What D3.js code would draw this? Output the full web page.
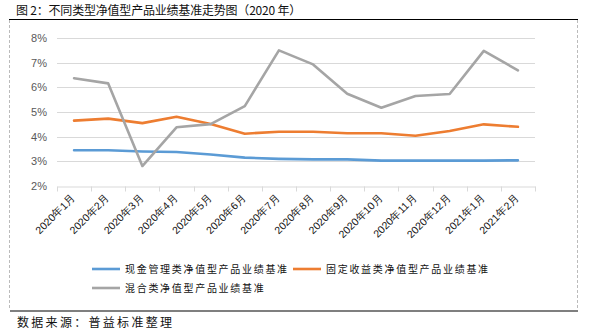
<!DOCTYPE html>
<html><head><meta charset="utf-8">
<script src="https://cdn.jsdelivr.net/npm/d3@7"></script>
<style>
body{margin:0;background:#fff;}
svg{display:block;font-family:"Noto Sans CJK SC","Noto Sans",sans-serif;}
</style></head>
<body><svg id="c" width="591" height="333"></svg>
<script>
const categories = ["2020年1月","2020年2月","2020年3月","2020年4月","2020年5月","2020年6月","2020年7月","2020年8月","2020年9月","2020年10月","2020年11月","2020年12月","2021年1月","2021年2月"];
const cashMgmt = [3.45,3.45,3.40,3.38,3.28,3.15,3.10,3.08,3.08,3.03,3.03,3.03,3.03,3.04];
const fixedIncome = [4.65,4.73,4.55,4.81,4.51,4.12,4.20,4.20,4.14,4.14,4.04,4.23,4.50,4.40];
const mixed = [6.37,6.16,2.81,4.38,4.51,5.24,7.50,6.93,5.74,5.17,5.65,5.73,7.48,6.69];
const yTicks = [2,3,4,5,6,7,8];
const seriesNames = ["现金管理类净值型产品业绩基准","固定收益类净值型产品业绩基准","混合类净值型产品业绩基准"];
const colors = ["#5b9bd5","#ed7d31","#a5a5a5"];
const title = "图 2：不同类型净值型产品业绩基准走势图（2020 年）";
const source = "数据来源：普益标准整理";

const svg = d3.select("#c");
// frame
svg.append("text").attr("x",16).attr("y",15).attr("font-size",12).attr("letter-spacing",-0.2).attr("fill","#111").text(title);
svg.append("line").attr("x1",9).attr("x2",578).attr("y1",19.5).attr("y2",19.5).attr("stroke","#000").attr("stroke-width",1.2);
svg.append("line").attr("x1",9.5).attr("x2",9.5).attr("y1",20).attr("y2",310).attr("stroke","#bbb").attr("stroke-dasharray","3,2");
svg.append("line").attr("x1",577.5).attr("x2",577.5).attr("y1",20).attr("y2",310).attr("stroke","#bbb").attr("stroke-dasharray","3,2");
svg.append("line").attr("x1",10).attr("x2",578).attr("y1",311).attr("y2",311).attr("stroke","#000").attr("stroke-width",1.2);
svg.append("text").attr("x",17).attr("y",327).attr("font-size",12).attr("letter-spacing",2.3).attr("fill","#111").text(source);

const x0=57, x1=535, yTop=38, yBot=186;
const x = d3.scaleBand().domain(categories).range([x0,x1]);
const y = d3.scaleLinear().domain([2,8]).range([yBot,yTop]);

// gridlines
svg.append("g").selectAll("line").data(yTicks.slice(1)).join("line")
  .attr("x1",x0).attr("x2",x1).attr("y1",d=>Math.round(y(d))+0.5).attr("y2",d=>Math.round(y(d))+0.5)
  .attr("stroke","#d9d9d9").attr("stroke-width",1);
// y labels
const yAxis = d3.axisLeft(y).tickValues(yTicks).tickFormat(d=>d+"%").tickSize(0).tickPadding(0);
const gy = svg.append("g").attr("transform",`translate(47,0)`).call(yAxis);
gy.select(".domain").remove();
gy.selectAll("text").attr("font-size",11).attr("fill","#595959").attr("font-family","'Liberation Sans',Arial,sans-serif");

// x axis
const xAxis = d3.axisBottom(x).tickSize(0).tickPadding(0);
const gx = svg.append("g").attr("transform",`translate(0,${yBot+0.5})`).call(xAxis);
gx.select(".domain").attr("stroke","#d9d9d9");
// tick marks at category boundaries
const bounds = categories.map((c)=>x(c)).concat([x1]);
gx.selectAll(".bt").data(bounds).join("line").attr("class","bt")
  .attr("x1",d=>Math.round(d)+0.5).attr("x2",d=>Math.round(d)+0.5).attr("y1",0).attr("y2",5).attr("stroke","#d9d9d9");
gx.selectAll(".tick text")
  .attr("font-size",10.5).attr("fill","#111").attr("text-anchor","end")
  .attr("dy",0).attr("y",0)
  .attr("transform","translate(2,12) rotate(-45)");

// lines
const line = d3.line().x((d,i)=>x(categories[i])+x.bandwidth()/2).y(d=>y(d));
[cashMgmt,fixedIncome,mixed].forEach((s,k)=>{
  svg.append("path").datum(s).attr("d",line).attr("fill","none")
    .attr("stroke",colors[k]).attr("stroke-width",2.6).attr("stroke-linejoin","round").attr("stroke-linecap","round");
});

// legend
const legendPos = [[92,269],[293,269],[92,288]];
seriesNames.forEach((n,k)=>{
  const [lx,ly]=legendPos[k];
  svg.append("line").attr("x1",lx).attr("x2",lx+28).attr("y1",ly).attr("y2",ly).attr("stroke",colors[k]).attr("stroke-width",2.6);
  svg.append("text").attr("x",lx+33).attr("y",ly+4).attr("font-size",10).attr("letter-spacing",1.7).attr("fill","#111").text(n);
});
</script></body></html>
